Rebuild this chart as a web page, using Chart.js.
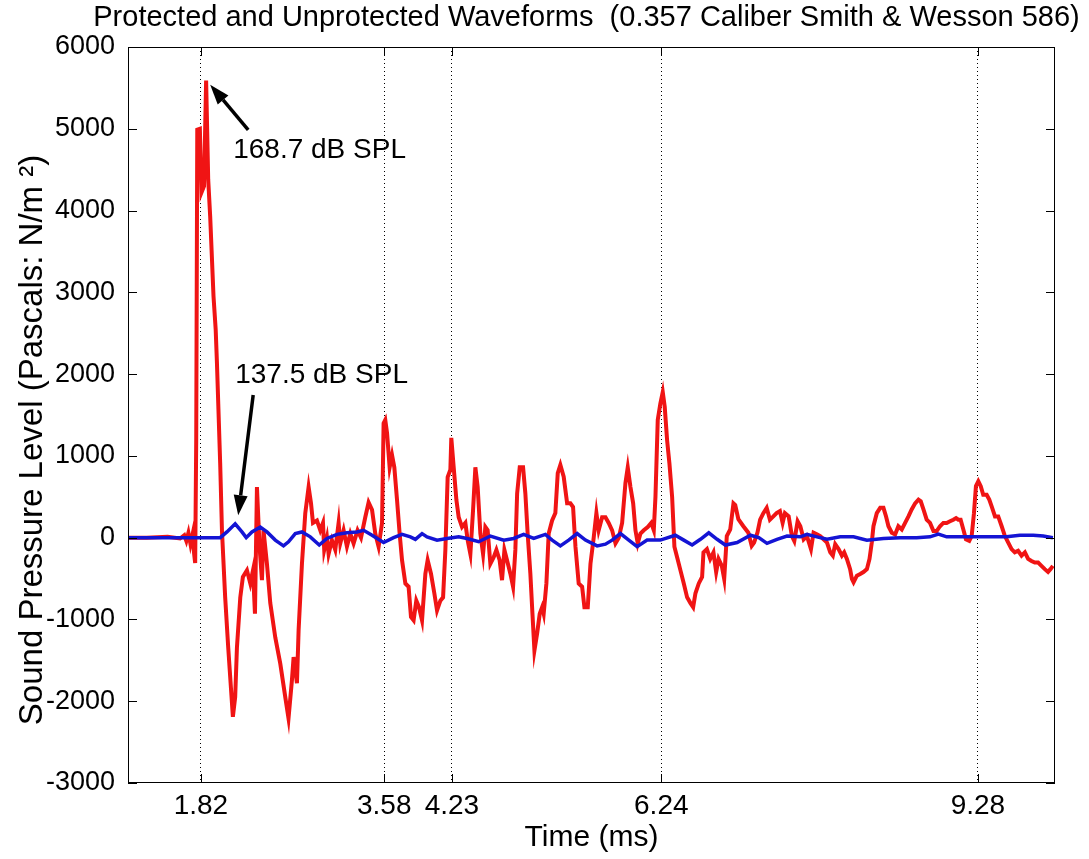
<!DOCTYPE html>
<html lang="en">
<head>
<meta charset="UTF-8">
<title>Protected and Unprotected Waveforms</title>
<style>
  body { margin: 0; background: #fff; }
  #wave { display: block; }
</style>
</head>
<body>
<canvas id="wave" width="1089" height="859"></canvas>
<script src="https://cdn.jsdelivr.net/npm/chart.js"></script>
<script>
// x axis only shows these times (ms)
const xTickValues = [1.82, 3.58, 4.23, 6.24, 9.28];

// unprotected waveform (red), time in ms / pressure in Pa
const redTime = [
  1.12, 1.30, 1.50, 1.62, 1.66, 1.68, 1.70, 1.72, 1.74, 1.755, 1.765, 1.775, 1.785, 1.81, 1.825, 1.85, 1.87, 1.89,
  1.909, 1.941, 1.962, 1.974, 2.005, 2.022, 2.053, 2.082, 2.127, 2.149, 2.166, 2.198, 2.223, 2.262, 2.294, 2.32,
  2.339, 2.358, 2.383, 2.406, 2.421, 2.454, 2.486, 2.534, 2.582, 2.63, 2.661, 2.694, 2.71, 2.742, 2.758, 2.79,
  2.822, 2.854, 2.877, 2.896, 2.934, 2.966, 2.992, 3.004, 3.03, 3.046, 3.078, 3.11, 3.142, 3.158, 3.19, 3.222,
  3.254, 3.286, 3.324, 3.357, 3.398, 3.43, 3.463, 3.494, 3.526, 3.559, 3.574, 3.59, 3.607, 3.632, 3.655, 3.677,
  3.703, 3.728, 3.751, 3.783, 3.814, 3.837, 3.862, 3.888, 3.914, 3.943, 3.975, 3.997, 4.029, 4.061, 4.087, 4.119,
  4.145, 4.167, 4.189, 4.215, 4.224, 4.247, 4.273, 4.295, 4.327, 4.359, 4.381, 4.407, 4.433, 4.455, 4.477, 4.503,
  4.529, 4.551, 4.573, 4.599, 4.631, 4.657, 4.688, 4.711, 4.734, 4.759, 4.791, 4.817, 4.839, 4.856, 4.881, 4.913,
  4.935, 4.957, 4.983, 5.003, 5.022, 5.048, 5.073, 5.096, 5.111, 5.137, 5.159, 5.192, 5.223, 5.246, 5.271, 5.303,
  5.336, 5.367, 5.393, 5.416, 5.447, 5.48, 5.502, 5.534, 5.56, 5.591, 5.617, 5.639, 5.672, 5.704, 5.735, 5.768,
  5.8, 5.832, 5.864, 5.896, 5.918, 5.944, 5.97, 5.992, 6.014, 6.04, 6.072, 6.11, 6.143, 6.168, 6.184, 6.206,
  6.231, 6.254, 6.273, 6.296, 6.318, 6.344, 6.366, 6.392, 6.424, 6.456, 6.488, 6.52, 6.546, 6.568, 6.6, 6.632,
  6.645, 6.678, 6.71, 6.741, 6.767, 6.79, 6.821, 6.844, 6.869, 6.902, 6.933, 6.95, 6.98, 7.028, 7.076, 7.108,
  7.131, 7.163, 7.189, 7.22, 7.252, 7.283, 7.316, 7.347, 7.379, 7.405, 7.427, 7.463, 7.494, 7.517, 7.549, 7.575,
  7.607, 7.638, 7.677, 7.702, 7.734, 7.766, 7.798, 7.831, 7.862, 7.887, 7.91, 7.942, 7.974, 7.996, 8.022, 8.053,
  8.07, 8.086, 8.118, 8.15, 8.181, 8.214, 8.239, 8.261, 8.277, 8.309, 8.342, 8.373, 8.398, 8.421, 8.453, 8.485,
  8.516, 8.549, 8.581, 8.613, 8.644, 8.677, 8.709, 8.731, 8.757, 8.788, 8.82, 8.853, 8.884, 8.916, 8.948, 8.98,
  9.012, 9.044, 9.07, 9.092, 9.114, 9.14, 9.165, 9.197, 9.22, 9.242, 9.261, 9.284, 9.307, 9.331, 9.364, 9.389,
  9.411, 9.444, 9.475, 9.508, 9.539, 9.571, 9.603, 9.634, 9.666, 9.699, 9.731, 9.762, 9.794, 9.826, 9.858, 9.89,
  9.922, 9.953, 9.976, 10.0
];
const redPressure = [
  0, 0, 10, -10, 30, -40, 60, -80, 40, -200, -310, 1200, 4990, 5000, 4220, 4300, 5590, 4380,
  3930, 2950, 2540, 2135, 910, 90, -730, -1340, -2190, -1950, -1340, -730, -480, -400, -560, -400,
  -930, 620, -110, -520, 90, -320, -800, -1220, -1540, -1950, -2210, -1740, -1460, -1780, -1130, -320,
  300, 620, 420, 180, 210, 90, 180, -150, 0, -200, -30, -150, 180, -70, 90, -110,
  50, -70, 90, 0, 250, 430, 340, 50, -110, 180, 1400, 1440, 1280, 860, 1010, 860,
  460, 50, -275, -560, -600, -970, -1010, -770, -850, -1010, -440, -275, -440, -680, -890, -770,
  -730, -150, 740, 830, 1220, 860, 460, 250, 130, 180, -30, -200, 340, 860, 620, 50,
  -200, 130, 90, -320, -240, -150, -275, -520, -150, -275, -440, -600, -150, 540, 860, 860,
  540, 50, -440, -930, -1380, -1170, -930, -850, -930, -560, 50, 210, 300, 790, 890, 745,
  420, 420, 375, -110, -560, -600, -850, -850, -320, 0, 300, 90, 250, 250, 180, 90,
  -70, 0, 180, 670, 860, 620, 420, 90, -70, 50, 90, 130, 180, 90, 500, 1440,
  1640, 1780, 1600, 1190, 910, 500, -110, -240, -400, -560, -730, -800, -850, -680, -560, -480,
  -180, -140, -260, -180, -420, -260, -345, -505, 20, 100, 420, 400, 225, 140, 60, -100,
  -60, 60, 220, 300, 365, 220, 260, 300, 325, 180, 300, 260, 20, -40, 200, 140,
  -20, 20, -140, 60, 40, 20, -20, -60, -180, -220, -80, -140, -220, -180, -260, -385,
  -505, -545, -465, -445, -420, -385, -260, -60, 140, 300, 365, 365, 260, 140, 60, 40,
  140, 100, 180, 260, 345, 420, 465, 445, 345, 220, 180, 80, 80, 140, 180, 180,
  200, 220, 240, 220, 220, 100, -20, -40, 20, 300, 630, 690, 630, 525, 525, 465,
  385, 260, 260, 140, 20, -60, -140, -180, -160, -220, -180, -260, -285, -305, -305, -345,
  -385, -420, -385, -345
];

// protected waveform (blue)
const blueTime = [
  1.12, 1.5, 1.8, 2.005, 2.07, 2.149, 2.214, 2.255, 2.31, 2.39, 2.454, 2.534, 2.613, 2.661, 2.726, 2.79,
  2.87, 2.956, 3.03, 3.126, 3.222, 3.318, 3.382, 3.463, 3.574, 3.67, 3.751, 3.831, 3.879, 3.943, 3.991, 4.087,
  4.183, 4.295, 4.375, 4.487, 4.599, 4.727, 4.823, 4.919, 5.015, 5.127, 5.192, 5.271, 5.351, 5.432, 5.512, 5.624,
  5.704, 5.768, 5.848, 5.928, 6.008, 6.104, 6.231, 6.375, 6.456, 6.536, 6.616, 6.696, 6.776, 6.855, 6.968, 7.096,
  7.176, 7.255, 7.351, 7.447, 7.575, 7.638, 7.734, 7.831, 7.958, 8.086, 8.214, 8.373, 8.533, 8.692, 8.82, 8.9,
  8.98, 9.108, 9.235, 9.395, 9.555, 9.682, 9.811, 9.907, 10.0
];
const bluePressure = [
  0, 0, 0, 0, 70, 170, 70, 0, 70, 130, 70, -30, -100, -50, 50, 70,
  10, -90, -10, 40, 60, 70, 90, 30, -60, 0, 40, 10, -20, 50, 10, -30,
  -10, 10, -10, -50, 20, -30, -10, 40, -10, 40, -30, -100, -30, 50, -30, -100,
  -80, -30, 50, -30, -110, -30, -30, 30, -30, -90, -20, 60, -20, -90, -60, 30,
  0, -70, -20, 20, 10, 40, 10, -20, 10, 10, -30, -10, 0, 0, 10, 45,
  10, 10, 10, 10, 10, 30, 30, 20, 0
];

// peak level notes: text anchor, arrow tail and arrow tip in (ms, Pa)
const splNotes = [
  { text: '168.7 dB SPL', label: [2.13, 4743], tail: [2.274, 4988], tip: [1.909, 5539] },
  { text: '137.5 dB SPL', label: [2.149, 1989], tail: [2.322, 1744], tip: [2.178, 275] }
];

const chartTitle = 'Protected and Unprotected Waveforms  (0.357 Caliber Smith & Wesson 586)';
const yTitle = 'Sound Pressure Level (Pascals: N/m ²)';
const FONT = "'Liberation Sans', Arial, Helvetica, sans-serif";

Chart.defaults.font.family = FONT;
Chart.defaults.color = '#000';

const toPoints = (xs, ys) => xs.map((x, i) => ({ x: x, y: ys[i] }));

// box + inward tick marks, matlab style
const framePlugin = {
  id: 'frame',
  afterDatasetsDraw(chart) {
    const { ctx, chartArea: a, scales } = chart;
    ctx.save();
    ctx.strokeStyle = '#000';
    ctx.lineWidth = 1;
    ctx.beginPath();
    scales.y.ticks.forEach(t => {
      const y = Math.round(scales.y.getPixelForValue(t.value)) + 0.5;
      ctx.moveTo(a.left, y); ctx.lineTo(a.left + 9, y);
      ctx.moveTo(a.right, y); ctx.lineTo(a.right - 9, y);
    });
    scales.x.ticks.forEach(t => {
      const x = Math.round(scales.x.getPixelForValue(t.value)) + 0.5;
      ctx.moveTo(x, a.bottom); ctx.lineTo(x, a.bottom - 9);
      ctx.moveTo(x, a.top); ctx.lineTo(x, a.top + 9);
    });
    ctx.stroke();
    ctx.strokeRect(a.left + 0.5, a.top + 0.5, a.width - 1, a.height - 1);
    ctx.restore();
  }
};

// title, y label, and the arrows with dB labels
const notesPlugin = {
  id: 'splNotes',
  afterDraw(chart) {
    const { ctx, chartArea: a, scales: { x, y } } = chart;
    ctx.save();
    ctx.fillStyle = '#000';
    ctx.font = '29px ' + FONT;
    ctx.textAlign = 'center';
    ctx.textBaseline = 'middle';
    ctx.fillText(chartTitle, (a.left + a.right) / 2 - 5, 18);

    // y label sits a bit below the axis middle in the original
    ctx.save();
    ctx.font = '33px ' + FONT;
    ctx.translate(33, (a.top + a.bottom) / 2 + 25);
    ctx.rotate(-Math.PI / 2);
    ctx.fillText(yTitle, 0, 0);
    ctx.restore();

    ctx.textAlign = 'left';
    ctx.font = '28px ' + FONT;
    splNotes.forEach(n => {
      const tx = x.getPixelForValue(n.tail[0]), ty = y.getPixelForValue(n.tail[1]);
      const hx = x.getPixelForValue(n.tip[0]), hy = y.getPixelForValue(n.tip[1]);
      const ang = Math.atan2(hy - ty, hx - tx);
      const head = 20, half = 7;
      const bx = hx - head * Math.cos(ang), by = hy - head * Math.sin(ang);
      ctx.strokeStyle = '#000';
      ctx.lineWidth = 3.5;
      ctx.beginPath();
      ctx.moveTo(tx, ty);
      ctx.lineTo(bx, by);
      ctx.stroke();
      ctx.beginPath();
      ctx.moveTo(hx, hy);
      ctx.lineTo(bx + half * Math.sin(ang), by - half * Math.cos(ang));
      ctx.lineTo(bx - half * Math.sin(ang), by + half * Math.cos(ang));
      ctx.closePath();
      ctx.fill();
      ctx.fillText(n.text, x.getPixelForValue(n.label[0]), y.getPixelForValue(n.label[1]));
    });
    ctx.restore();
  }
};

new Chart(document.getElementById('wave'), {
  type: 'line',
  data: {
    datasets: [
      {
        label: 'Unprotected',
        data: toPoints(redTime, redPressure),
        borderColor: '#f01414',
        borderWidth: 4,
        pointRadius: 0,
        order: 1
      },
      {
        label: 'Protected',
        data: toPoints(blueTime, bluePressure),
        borderColor: '#1414d4',
        borderWidth: 3.5,
        pointRadius: 0,
        order: 0
      }
    ]
  },
  options: {
    responsive: false,
    animation: false,
    layout: { padding: { left: 0, right: 34, top: 47, bottom: 0 } },
    plugins: {
      legend: { display: false },
      tooltip: { enabled: false },
      title: { display: false }
    },
    scales: {
      x: {
        type: 'linear',
        min: 1.12,
        max: 10.02,
        afterBuildTicks: s => { s.ticks = xTickValues.map(v => ({ value: v })); },
        afterFit: s => { s.height = 76; },
        ticks: {
          autoSkip: false,
          maxRotation: 0,
          padding: 6,
          font: { size: 28 },
          callback: v => v.toFixed(2)
        },
        grid: { display: true, drawTicks: false, color: '#000', lineWidth: 1 },
        border: { display: false, dash: [1, 3] },
        title: { display: true, text: 'Time (ms)', font: { size: 30 }, padding: { top: 0, bottom: 3 } }
      },
      y: {
        min: -3000,
        max: 6000,
        afterFit: s => { s.width = 128; },
        ticks: { stepSize: 1000, padding: 5, font: { size: 27 }, callback: v => String(v) },
        grid: { display: false },
        border: { display: false }
      }
    }
  },
  plugins: [framePlugin, notesPlugin]
});
</script>
</body>
</html>
